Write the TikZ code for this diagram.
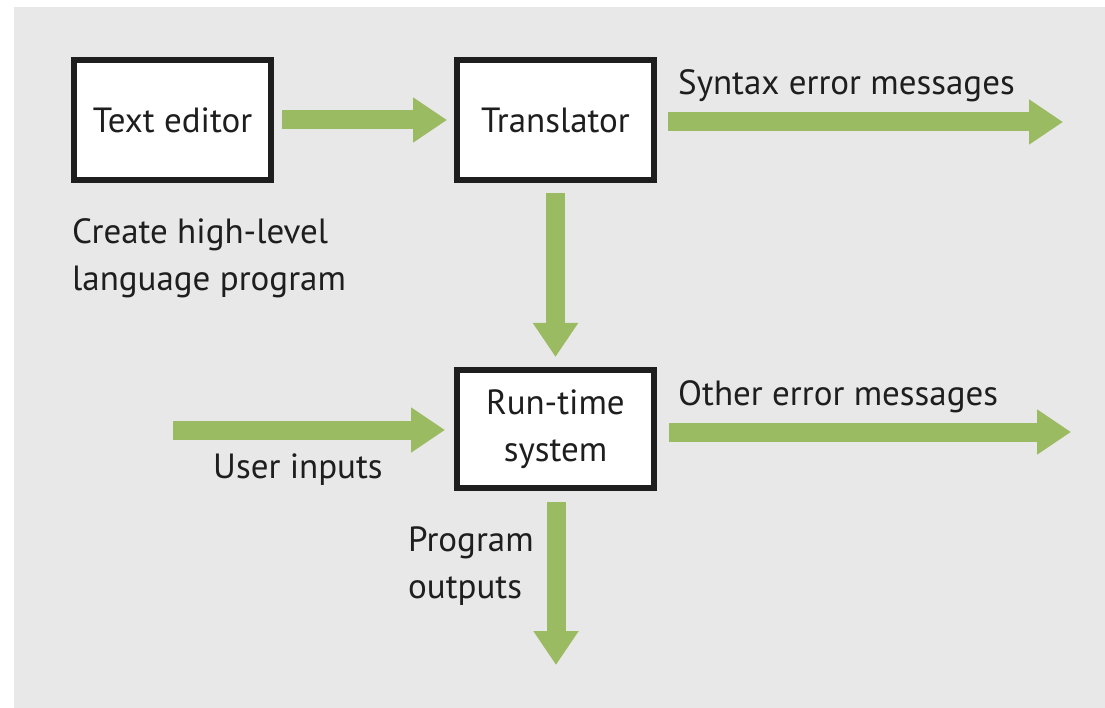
\documentclass[tikz,border=0pt]{standalone}
\usepackage{fontspec}
\setmainfont{PT Sans}
\usetikzlibrary{arrows.meta}
\definecolor{bg}{HTML}{E8E8E8}
\definecolor{grn}{HTML}{9BBB62}
\definecolor{ink}{HTML}{1E1E1E}
\begin{document}
\begin{tikzpicture}[x=1pt,y=-1pt,
  box/.style={draw=ink,line width=6pt,fill=white,minimum width=197pt,minimum height=120pt,inner sep=0pt,font=\fontsize{35}{47}\selectfont,text=ink,align=center},
  lbl/.style={inner sep=0pt,font=\fontsize{35}{47}\selectfont,text=ink,align=left},
  flow/.style={draw=grn,line width=19pt,-{Triangle[width=43pt,length=34pt]}}]
\useasboundingbox (0,0) rectangle (1105,708);
\fill[bg] (14,7) rectangle (1105,708);
\node[box] (te) at (172.5,120) {Text editor};
\node[box] (tr) at (555.5,120) {Translator};
\node[box,minimum height=118pt] (rt) at (555.5,429) {Run-time\\system};
\coordinate (synend) at (1063,122);
\coordinate (othend) at (1071,432);
\coordinate (usrstart) at (173,430);
\coordinate (outend) at (556,665);
\draw[flow] ([xshift=8pt]te.east) -- ([xshift=-7pt]tr.west);
\draw[flow] ([xshift=11pt]tr.east |- synend) -- (synend);
\draw[flow] ([yshift=-10pt]tr.south) -- ([yshift=10pt]rt.north);
\draw[flow] (usrstart) -- ([xshift=-9pt]rt.west |- usrstart);
\draw[flow] ([xshift=12pt]rt.east |- othend) -- (othend);
\draw[flow] ([yshift=-11pt]rt.south -| outend) -- (outend);
\node[lbl,anchor=base west] (syn) at (678,95) {Syntax error messages};
\node[lbl,anchor=base west] (oth) at (678,405) {Other error messages};
\node[lbl,anchor=base west] (usr) at (213,478) {User inputs};
\node[lbl,anchor=north west] (cre) at (72,218) {Create high-level\\language program};
\node[lbl,anchor=north west] (pro) at (408,527) {Program\\outputs};
\end{tikzpicture}
\end{document}
